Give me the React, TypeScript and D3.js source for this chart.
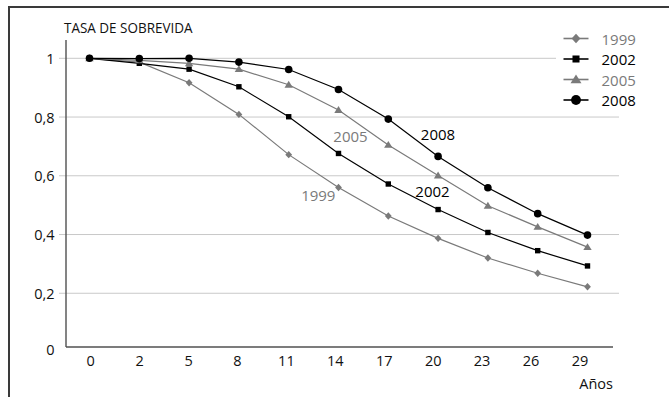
import React from "react";
import * as d3 from "d3";

const years: string[] = ["0", "2", "5", "8", "11", "14", "17", "20", "23", "26", "29"];
const s1999: number[] = [1, 0.987, 0.917, 0.809, 0.672, 0.56, 0.463, 0.387, 0.32, 0.268, 0.222];
const s2002: number[] = [1, 0.983, 0.963, 0.903, 0.801, 0.676, 0.572, 0.485, 0.407, 0.345, 0.293];
const s2005: number[] = [1, 0.993, 0.983, 0.963, 0.91, 0.824, 0.705, 0.601, 0.498, 0.426, 0.357];
const s2008: number[] = [1, 0.999, 1.0, 0.987, 0.962, 0.894, 0.793, 0.666, 0.559, 0.471, 0.398];
const yTicks: number[] = [0, 0.2, 0.4, 0.6, 0.8, 1];
const yTickLabels: string[] = ["0", "0,2", "0,4", "0,6", "0,8", "1"];
const seriesNames: string[] = ["1999", "2002", "2005", "2008"];

const FONT = "'Open Sans', 'Noto Sans', sans-serif";
const GRAY = "#7a7a7a";
const BLACK = "#000";

type Shape = "diamond" | "square" | "triangle" | "circle";

function Marker({ shape, x, y, color, k = 1 }: { shape: Shape; x: number; y: number; color: string; k?: number }) {
  if (shape === "circle") return <circle cx={x} cy={y} r={3.8 * k} fill={color} />;
  if (shape === "square") {
    const h = 2.7 * k;
    return <rect x={x - h} y={y - h} width={2 * h} height={2 * h} fill={color} />;
  }
  if (shape === "diamond") {
    const w = 3.4 * k, h = 3.7 * k;
    return <path d={`M${x},${y - h}L${x + w},${y}L${x},${y + h}L${x - w},${y}Z`} fill={color} />;
  }
  const w = 4.2 * k, h = 3.9 * k;
  return <path d={`M${x},${y - h}L${x + w},${y + h * 0.75}L${x - w},${y + h * 0.75}Z`} fill={color} />;
}

export default function App() {
  const x = d3.scalePoint<string>().domain(years).range([89.5, 587.5]);
  const xLab = d3.scalePoint<string>().domain(years).range([90.7, 580]);
  const y = d3.scaleLinear().domain([0, 1]).range([352, 58.3]);
  const axisY = y(0) - 5;

  const series = [
    { name: seriesNames[0], values: s1999, color: GRAY, shape: "diamond" as Shape },
    { name: seriesNames[1], values: s2002, color: BLACK, shape: "square" as Shape },
    { name: seriesNames[2], values: s2005, color: GRAY, shape: "triangle" as Shape },
    { name: seriesNames[3], values: s2008, color: BLACK, shape: "circle" as Shape },
  ];

  const line = d3
    .line<number>()
    .x((_, i) => x(years[i]) as number)
    .y((v) => y(v));

  const inlineLabels = [
    { text: "1999", color: GRAY, xc: 318.3, v: 0.534 },
    { text: "2002", color: BLACK, xc: 432.5, v: 0.548 },
    { text: "2005", color: GRAY, xc: 350.5, v: 0.736 },
    { text: "2008", color: BLACK, xc: 438, v: 0.742 },
  ];

  return (
    <div style={{ position: "absolute", left: 0, top: 0 }}>
      <svg width={669} height={397} style={{ display: "block", fontFamily: FONT }}>
        <rect width={669} height={397} fill="#fff" />
        {/* frame */}
        <path d="M9,400L9,7L672,7" fill="none" stroke="#3a3a3a" strokeWidth={2} />

        {/* gridlines */}
        {yTicks.slice(1).map((t) => (
          <line key={t} x1={59} x2={619} y1={y(t)} y2={y(t)} stroke="#c9c9c9" strokeWidth={1} />
        ))}

        {/* axes */}
        <line x1={66} x2={66} y1={40} y2={axisY} stroke="#505050" strokeWidth={1.4} />
        <line x1={66} x2={613} y1={axisY} y2={axisY} stroke="#505050" strokeWidth={1.4} />

        {/* y labels */}
        {yTicks.map((t, i) => (
          <text
            key={t}
            x={54.5}
            y={t === 0 ? y(0) - 3 : y(t)}
            textAnchor="end"
            dominantBaseline="central"
            fontSize={14.5}
            fill="#111"
          >
            {yTickLabels[i]}
          </text>
        ))}

        {/* x labels */}
        {years.map((yr) => (
          <text key={yr} x={xLab(yr)} y={360} textAnchor="middle" dominantBaseline="central" fontSize={14.5} fill="#111">
            {yr}
          </text>
        ))}

        <text x={613} y={383} textAnchor="end" dominantBaseline="central" fontSize={14.5} fill="#111">
          Años
        </text>
        <text x={64} y={27} dominantBaseline="central" fontSize={14.5} fill="#111" textLength={128.5} lengthAdjust="spacingAndGlyphs">
          TASA DE SOBREVIDA
        </text>

        {/* series */}
        {series.map((s) => (
          <g key={s.name}>
            <path d={line(s.values) as string} fill="none" stroke={s.color} strokeWidth={1.2} />
            {s.values.map((v, i) => (
              <Marker key={i} shape={s.shape} x={x(years[i]) as number} y={y(v)} color={s.color} />
            ))}
          </g>
        ))}

        {/* inline labels */}
        {inlineLabels.map((l) => (
          <text key={l.text} x={l.xc} y={y(l.v)} textAnchor="middle" dominantBaseline="central" fontSize={15} fill={l.color}>
            {l.text}
          </text>
        ))}

        {/* legend */}
        <rect x={556} y={28} width={80} height={84} fill="#fff" />
        {series.map((s, i) => {
          const ly = 38.5 + i * 20.5;
          return (
            <g key={s.name}>
              <line x1={563.5} x2={588.5} y1={ly} y2={ly} stroke={s.color} strokeWidth={1.6} />
              <Marker shape={s.shape} x={576} y={ly} color={s.color} k={1.3} />
              <text x={601.5} y={ly} dominantBaseline="central" fontSize={15} fill={s.color}>
                {s.name}
              </text>
            </g>
          );
        })}
      </svg>
    </div>
  );
}
